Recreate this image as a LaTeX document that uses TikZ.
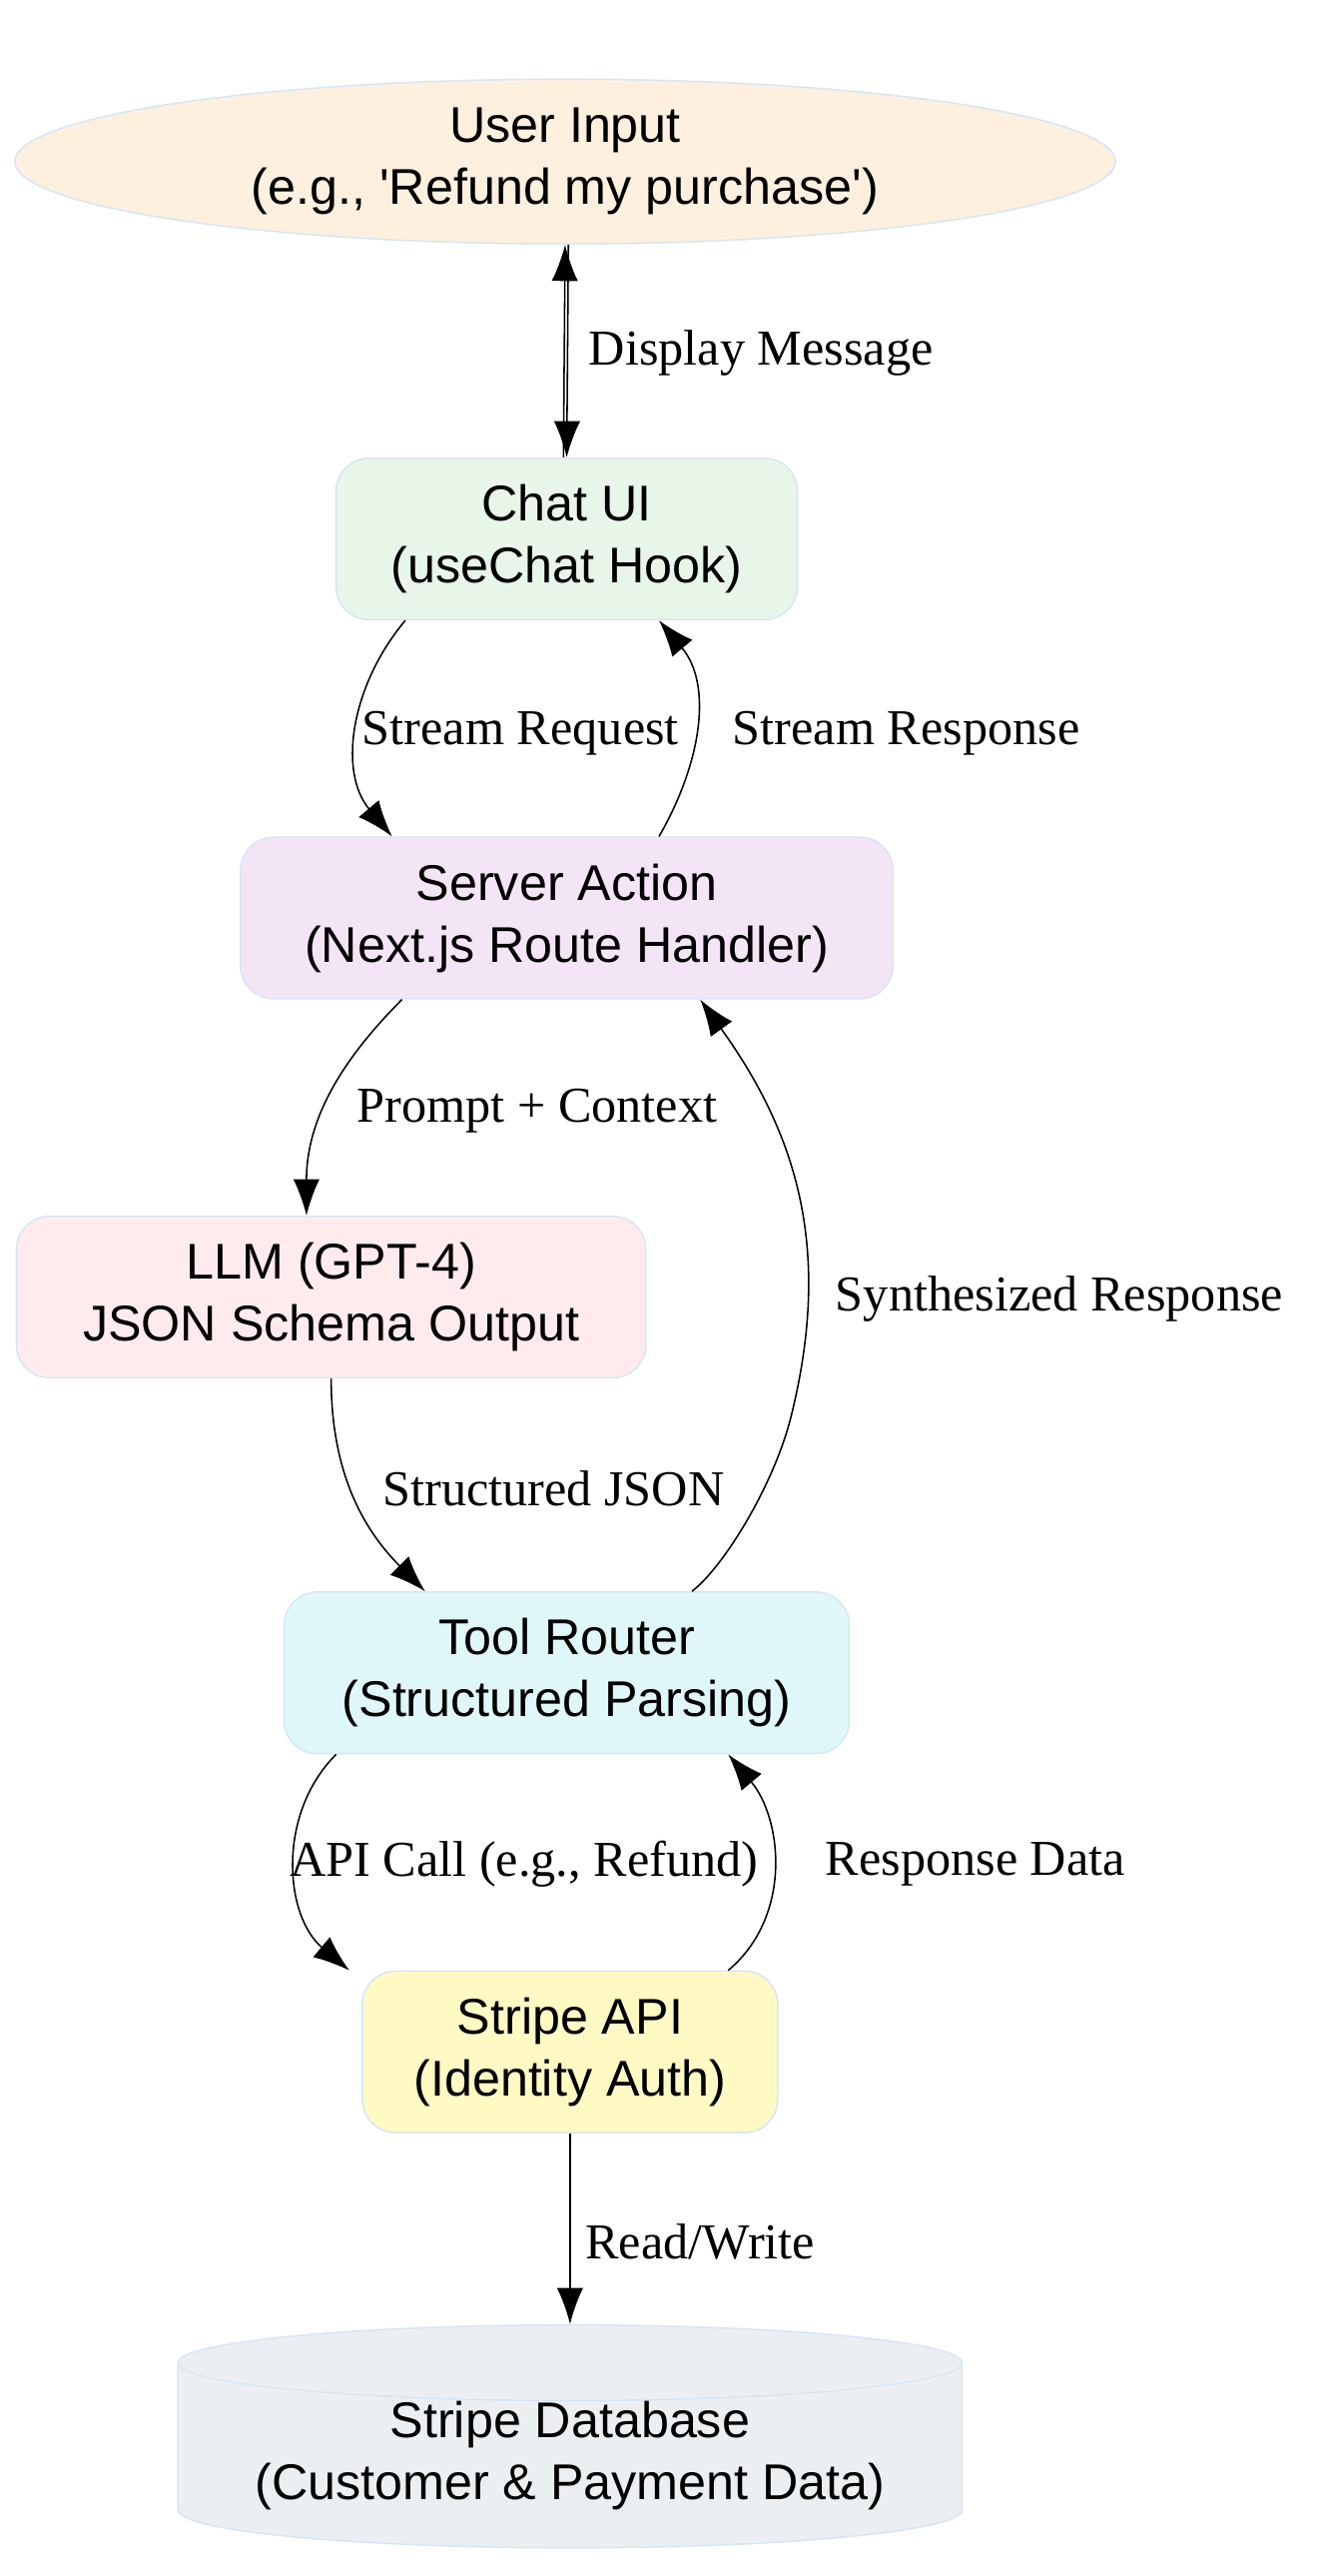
\documentclass[tikz,border=0pt]{standalone}
\usepackage{fontspec}
\setmainfont{Liberation Serif}
\newfontfamily\boxfont{Liberation Sans}
\usetikzlibrary{shapes.geometric,calc,arrows.meta}
\definecolor{edgeblue}{HTML}{D6E6F5}
\begin{document}
\begin{tikzpicture}[x=0.03cm,y=-0.03cm,
  box/.style={draw=edgeblue,thick,rounded corners=0.6cm,inner sep=0pt,align=center,font=\boxfont\fontsize{26}{32}\selectfont,minimum height=2.94cm},
  lab/.style={font=\fontsize{26}{32}\selectfont,inner sep=1pt},
  arr/.style={thick,-{Latex[length=0.66cm,width=0.48cm]}}]
\useasboundingbox (0,0) rectangle (805,1563);

\node[ellipse,draw=edgeblue,thick,fill={rgb,255:red,254;green,240;blue,223},minimum width=20.04cm,minimum height=3cm,align=center,font=\boxfont\fontsize{26}{32}\selectfont,inner sep=0pt] (user) at (343,98) {User Input\\(e.g., 'Refund my purchase')};
\node[box,fill={rgb,255:red,232;green,245;blue,233},minimum width=8.4cm] (chat) at (344,327) {Chat UI\\(useChat Hook)};
\node[box,fill={rgb,255:red,243;green,229;blue,245},minimum width=11.88cm] (server) at (344,557) {Server Action\\(Next.js Route Handler)};
\node[box,fill={rgb,255:red,255;green,235;blue,238},minimum width=11.46cm] (llm) at (201,787) {LLM (GPT-4)\\JSON Schema Output};
\node[box,fill={rgb,255:red,224;green,247;blue,250},minimum width=10.29cm] (router) at (344,1015) {Tool Router\\(Structured Parsing)};
\node[box,fill={rgb,255:red,255;green,249;blue,196},minimum width=7.56cm] (stripe) at (346,1245) {Stripe API\\(Identity Auth)};
\node[cylinder,shape border rotate=90,aspect=0.12,draw=edgeblue,thick,fill={rgb,255:red,236;green,239;blue,241},minimum width=14.28cm,minimum height=3.6cm,align=center,font=\boxfont\fontsize{26}{32}\selectfont,inner sep=0pt] (db) at (346,1490) {Stripe Database\\(Customer \& Payment Data)};

% user <-> chat
\draw[arr] ($(chat.north)+(-2,0)$) -- ($(user.south)+(0,0)$);
\draw[arr] ($(user.south)+(2,0)$) -- ($(chat.north)+(0,0)$);
\node[lab] (l1) at (462,214) {Display Message};

% chat <-> server
\draw[arr] ($(chat.south)+(-98,0)$) to[out=-130,in=130] ($(server.north)+(-106,0)$);
\node[lab] (l2) at (316,445) {Stream Request};
\draw[arr] ($(server.north)+(56,0)$) to[out=60,in=-50] ($(chat.south)+(56,0)$);
\node[lab] (l3) at (550,445) {Stream Response};

% server -> llm -> router
\draw[arr] ($(server.south)+(-100,0)$) to[out=-135,in=90] ($(llm.north)+(-15,0)$);
\node[lab] (l4) at (326,674) {Prompt + Context};
\draw[arr] (llm.south) to[out=-90,in=135] ($(router.north)+(-86,0)$);
\node[lab] (l5) at (336,903) {Structured JSON};

% router -> server
\draw[arr] ($(router.north)+(76,0)$) .. controls (440,950) and (470,900) .. (480,860) .. controls (505,760) and (485,690) .. ($(server.south)+(81,0)$);
\node[lab] (l6) at (643,788) {Synthesized Response};

% router <-> stripe
\draw[arr] ($(router.south)+(-140,0)$) to[out=-135,in=140] ($(stripe.north)+(-134,0)$);
\node[lab] (l7) at (318,1131) {API Call (e.g., Refund)};
\draw[arr] ($(stripe.north)+(96,0)$) to[out=40,in=-50] ($(router.south)+(98,0)$);
\node[lab] (l8) at (592,1131) {Response Data};

% stripe -> db
\draw[arr] (stripe.south) -- (db.north);
\node[lab] (l9) at (425,1360) {Read/Write};
\end{tikzpicture}
\end{document}
